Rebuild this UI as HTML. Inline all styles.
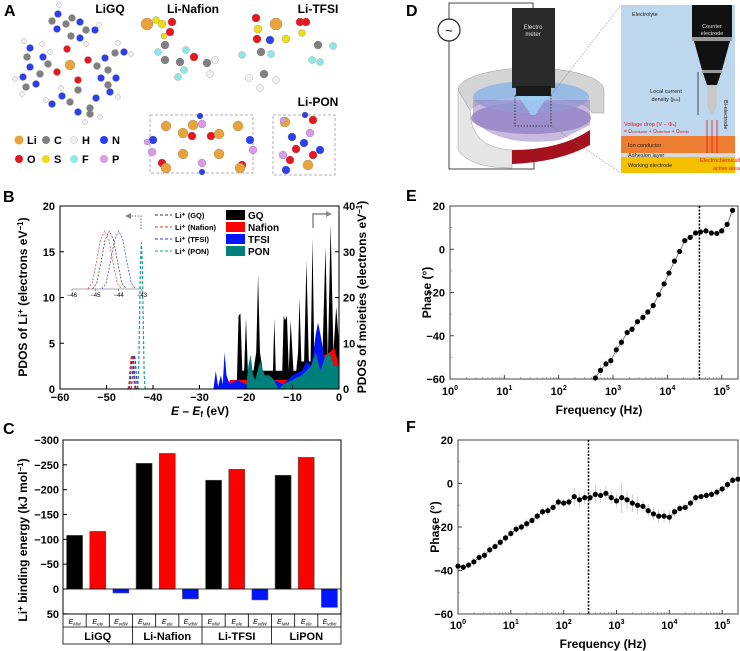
<!DOCTYPE html>
<html><head><meta charset="utf-8"><style>
body{margin:0;background:#fff;}
svg{display:block;font-family:"Liberation Sans",Arial,sans-serif;}
.b{font-weight:bold;}
</style></head><body>
<svg id="fig" width="740" height="651" viewBox="0 0 740 651" xmlns="http://www.w3.org/2000/svg">
<g id="panelA">
<text x="4" y="16" font-size="16" class="b">A</text>
<text x="110" y="13" font-size="12" class="b" text-anchor="middle">LiGQ</text>
<text x="193" y="13" font-size="12" class="b" text-anchor="middle">Li-Nafion</text>
<text x="318" y="13" font-size="12" class="b" text-anchor="middle">Li-TFSI</text>
<text x="318" y="106" font-size="12" class="b" text-anchor="middle">Li-PON</text>
<rect x="150" y="115" width="103" height="58" fill="none" stroke="#999" stroke-dasharray="3,2" stroke-width="0.8"/>
<rect x="273" y="115" width="62" height="60" fill="none" stroke="#999" stroke-dasharray="3,2" stroke-width="0.8"/>
<g id="mol"></g>
<g>
<circle cx="19" cy="140" r="4.5" fill="#e8a33a"/><text x="27" y="144" font-size="11" class="b">Li</text>
<circle cx="46" cy="140" r="4" fill="#808080"/><text x="54" y="144" font-size="11" class="b">C</text>
<circle cx="74" cy="140" r="3.5" fill="#f2f2f2" stroke="#bbb" stroke-width="0.5"/><text x="82" y="144" font-size="11" class="b">H</text>
<circle cx="104" cy="140" r="4" fill="#2b3ff0"/><text x="112" y="144" font-size="11" class="b">N</text>
<circle cx="19" cy="159" r="4" fill="#e8141e"/><text x="27" y="163" font-size="11" class="b">O</text>
<circle cx="46" cy="159" r="4" fill="#ecdc1a"/><text x="54" y="163" font-size="11" class="b">S</text>
<circle cx="74" cy="159" r="4" fill="#8fe8e8"/><text x="82" y="163" font-size="11" class="b">F</text>
<circle cx="104" cy="159" r="4" fill="#d99ae8"/><text x="112" y="163" font-size="11" class="b">P</text>
</g>
</g>

<g id="panelD">
<text x="406" y="16" font-size="16" class="b">D</text>
<polyline points="449,19 449,3 533,3 533,8" fill="none" stroke="#444" stroke-width="1"/>
<polyline points="449,41 449,169 534,169 534,160" fill="none" stroke="#444" stroke-width="1"/>
<circle cx="449" cy="30" r="11" fill="#fff" stroke="#222" stroke-width="1.2"/>
<text x="449" y="35" font-size="13" text-anchor="middle">~</text>
<path d="M458,90 L458,150 Q470,168 512,168 L512,150 Q470,148 470,110 Z" fill="#e5e5e5" stroke="#999" stroke-width="0.5"/>
<path d="M458,90 A73,22 0 0 1 604,90 L604,113 L592,113 A62,18 0 0 0 470,110 Z" fill="#d4d4d4" stroke="#999" stroke-width="0.5"/>
<path d="M512,150 L512,164 Q560,162 590,145 L590,130 Q560,150 512,150 Z" fill="#a3121d"/>
<ellipse cx="531" cy="118" rx="60" ry="16" fill="#8c84c9" opacity="0.8"/>
<ellipse cx="531" cy="97" rx="58" ry="16" fill="#8cb6e6" opacity="0.85"/>
<path d="M473,100 L473,120 Q500,148 560,140 L590,125 L590,100 Z" fill="#9b7fc2" opacity="0.55"/>
<rect x="512" y="8" width="43" height="80" fill="#2a2a2a"/>
<rect x="516" y="86" width="35" height="10" fill="#1a1a1a"/>
<polygon points="518,96 548,96 535,115 531,115" fill="#9fd0f5" opacity="0.8"/>
<text x="533" y="29" font-size="6" fill="#ddd" text-anchor="middle">Electro</text>
<text x="533" y="36" font-size="6" fill="#ddd" text-anchor="middle">meter</text>
<rect x="515" y="95" width="36" height="31" fill="none" stroke="#222" stroke-dasharray="1.5,1.5" stroke-width="0.8"/>
<line x1="551" y1="95" x2="621" y2="5" stroke="#777" stroke-width="0.5" stroke-dasharray="2,1"/>
<line x1="551" y1="126" x2="621" y2="173" stroke="#777" stroke-width="0.5" stroke-dasharray="2,1"/>
<g>
<rect x="621" y="5" width="114" height="131" fill="#bcd7ee"/>
<rect x="621" y="136" width="114" height="17" fill="#ed7d31"/>
<rect x="621" y="153" width="114" height="4" fill="#d9d9d9"/>
<rect x="621" y="157" width="114" height="16" fill="#f5c000"/>
<rect x="692" y="5" width="40" height="32" fill="#111"/>
<rect x="692" y="37" width="40" height="4" fill="#999"/>
<polygon points="694,41 730,41 722,70 702,70" fill="#111"/>
<rect x="702" y="70" width="20" height="3" fill="#999"/>
<polygon points="703,73 721,73 717,85 707,85" fill="#111"/>
<polygon points="707,85 717,85 717,106 712,115 707,106" fill="#c8c8c8"/>
<text x="712" y="28" font-size="5.5" fill="#ddd" text-anchor="middle">Counter</text>
<text x="712" y="35" font-size="5.5" fill="#ddd" text-anchor="middle">electrode</text>
<text x="632" y="16" font-size="5.5" fill="#222">Electrolyte</text>
<text x="666" y="93" font-size="5.5" fill="#222" text-anchor="middle">Local current</text>
<text x="666" y="101" font-size="5.5" fill="#222" text-anchor="middle">density (j<tspan font-size="4">loc</tspan>)</text>
<line x1="698" y1="72" x2="698" y2="115" stroke="#111" stroke-width="0.7"/>
<text x="624" y="126" font-size="5.5" fill="#e8141e">Voltage drop (V − Φ<tspan font-size="4">s</tspan>)</text>
<text x="624" y="133" font-size="5" fill="#e8141e">= Ω<tspan font-size="3.5">conductor</tspan> + Ω<tspan font-size="3.5">interface</tspan> + Ω<tspan font-size="3.5">ohmic</tspan></text>
<text x="628" y="147" font-size="5.5" fill="#222">Ion conductor</text>
<text x="628" y="157" font-size="5.5" fill="#222">Adhesion layer</text>
<text x="628" y="167" font-size="5.5" fill="#222">Working electrode</text>
<text x="700" y="162" font-size="5.5" fill="#e8141e">Electrochemically</text>
<text x="713" y="170" font-size="5.5" fill="#e8141e">active area</text>
<text x="724" y="100" font-size="5.5" fill="#222" transform="rotate(90 724 100)">Bi-electrode</text>
<line x1="707" y1="153" x2="707" y2="120" stroke="#e8141e" stroke-width="0.8"/>
<line x1="712" y1="153" x2="712" y2="120" stroke="#e8141e" stroke-width="0.8"/>
<line x1="717" y1="153" x2="717" y2="120" stroke="#e8141e" stroke-width="0.8"/>
</g>
</g>

<g id="panelB">
<text x="3" y="202" font-size="16" class="b">B</text>
</g>
<g id="panelC">
<text x="3" y="434" font-size="16" class="b">C</text>
</g>
<g id="panelE">
<text x="406" y="201" font-size="16" class="b">E</text>
</g>
<g id="panelF">
<text x="406" y="432" font-size="16" class="b">F</text>
</g>
</svg>
<script>
// ---------- Panel B data ----------
const gqE = [-22,-21.6,-21.2,-20.8,-20.4,-20,-19.6,-19,-18.4,-17.8,-17.4,-17,-16.4,-15,-14.2,-13.9,-13.6,-13,-12.2,-11.9,-11.6,-11.2,-10.8,-10.4,-9.8,-9.2,-8.8,-8.5,-8.1,-7.5,-7,-6.5,-6.1,-5.7,-5.3,-4.5,-3.6,-2.9,-2.4,-1.8,-1.2,-0.6,0];
const gqV = [0,16,16.5,4,4,15.5,4,4,4,8,25,8,4,4,4,15.5,4,4,4,16,15,16,4,15,4,4,8,20,6,6,28,6,6,33,6,6,6,31,6,36,8,18,10];
const nafE = [-24,-23.5,-22,-20,-18,-16,-14,-12,-10,-8,-6,-4,-2,-1,0];
const nafV = [0,2,2,2,2,2,2,2,2,3,5,7,8,9,5];
const tfsiE = [-27,-26.5,-26,-25.4,-25,-24.6,-24.2,-23.5,-22,-20,-18,-16,-14,-12,-10,-8,-7,-6,-5.5,-5,-4.5,-4,-3,-2,-1,0];
const tfsiV = [0,4,0.5,3,1,8,3,1,2,1,2,1,2,1,3,4,6,5,8,12,14.5,12,6,8,5,4];
const ponE = [-20,-19.5,-19,-18.5,-18,-17,-16,-15,-14,-13,-12,-10,-8,-6,-5,-4,-3,-2,-1,0];
const ponV = [0,5,7.5,3,2,6,3,3,2,0,1,2,3,5,8,4,7,8,5,5];
const liNames = ['Li⁺ (GQ)','Li⁺ (Nafion)','Li⁺ (TFSI)','Li⁺ (PON)'];
const liCenters = [-44.4,-44.6,-44.0,-42.5];
const liPeaks = [3.7,3.7,3.7,16];
const liShapeOff = [-0.8,-0.6,-0.4,-0.2,0,0.2,0.4,0.6,0.8];
const liShapeV = [0,0.1,0.45,0.85,1,0.85,0.45,0.1,0];
const bXTicks = [-60,-50,-40,-30,-20,-10,0];
const bLTicks = [0,5,10,15,20];
const bRTicks = [0,10,20,30,40];
// ---------- Panel C data ----------
const cGroups = ['LiGQ','Li-Nafion','Li-TFSI','LiPON'];
const cTerms = ['MM','ele','vdW'];
const cMM = [108,253,219,229];
const cEle = [116,273,241,265];
const cVdw = [-8,-20,-22,-37];
const cTicks = [-300,-250,-200,-150,-100,-50,0,50];
// ---------- Panel E data ----------
const eLogF = [2.675,2.77,2.87,2.96,3.06,3.155,3.26,3.35,3.45,3.55,3.64,3.74,3.84,3.94,4.03,4.13,4.225,4.32,4.42,4.52,4.61,4.71,4.81,4.91,5.0,5.1,5.2];
const ePhase = [-59.5,-56,-53,-51.5,-46.5,-43,-38.5,-37,-33.5,-31.5,-29,-26,-21,-16,-11,-5.5,-1,4,5.5,7.5,8,8.5,7.5,7.3,8.5,11.5,18];
const eErr = [1.5,2.5,2,2.5,2,2,1.5,1.5,1.5,2,1.5,1.5,1,1,1,1,1,1,1,1,1,3,1,1,1,1,1];
const eMarker = 4.59;
// ---------- Panel F data ----------
const fLogF = [0,0.1,0.2,0.3,0.4,0.5,0.6,0.7,0.8,0.9,1.0,1.1,1.2,1.3,1.4,1.5,1.6,1.7,1.8,1.9,2.0,2.1,2.2,2.3,2.4,2.5,2.6,2.7,2.8,2.9,3.0,3.1,3.2,3.3,3.4,3.5,3.6,3.7,3.8,3.9,4.0,4.1,4.2,4.3,4.4,4.5,4.6,4.7,4.8,4.9,5.0,5.1,5.2,5.3];
const fPhase = [-38,-38.5,-37.5,-36,-34,-33,-30.5,-29,-27,-25,-23,-21,-20,-18.5,-17,-15,-13,-12.5,-11,-8.5,-9,-8.5,-6,-7.5,-6.5,-6.5,-5,-5.5,-4.5,-6.5,-8,-6.5,-7.5,-9,-10,-10.5,-12.5,-14,-15,-15,-15.5,-13,-11.5,-11,-9,-6.5,-6,-5.5,-5,-4,-2.5,-0.5,1.5,2];
const fErr = [1.5,1.5,1.5,2,2,2,2,2,2,2,2,2,2,2,2,2,2,2,2,2,2,2,4,3,3,3,4,3,3,3,3,7,4,4,4,3,3,3,3,3,3,2,2,2,2,2,2,2,2,2,2,2,2,2];
const fMarker = 2.47;
const freqTicks = [0,1,2,3,4,5];
const phaseTicks = [20,0,-20,-40,-60];

const NS='http://www.w3.org/2000/svg';
function mk(parent,tag,attrs,text){const e=document.createElementNS(NS,tag);for(const k in attrs)e.setAttribute(k,attrs[k]);if(text!==undefined)e.textContent=text;parent.appendChild(e);return e;}

// ---- Panel A atoms (decorative) ----
(function(){
const g=document.getElementById('mol');
const C='#808080',N='#2b3ff0',H='#f2f2f2',O='#e8141e',L='#e8a33a',S='#ecdc1a',F='#8fe8e8',P='#d99ae8';
const atoms=[[59,5,H,2.5],[58,14,N,3.5],[52,21,C,3.5],[57,29,N,3.5],[66,24,C,3.5],[72,18,C,3.5],[80,22,N,3.5],[86,30,C,3.5],[95,30,N,3.5],[99,25,H,2.5],[80,38,N,3.5],[71,36,C,3.5],[67,49,O,3.5],[86,44,H,2.5],
[24,41,H,2.5],[30,48,N,3.5],[27,57,C,3.5],[30,67,N,3.5],[23,77,N,3.5],[15,79,H,2.5],[26,87,C,3.5],[36,84,N,3.5],[40,74,C,3.5],[48,64,C,3.5],[57,72,O,3.5],[43,57,N,3.5],[50,52,H,2.5],[42,44,H,2.5],[22,94,H,2.5],
[70,65,L,5],[88,60,O,3.5],[97,66,C,3.5],[105,58,N,3.5],[115,53,C,3.5],[124,52,N,3.5],[118,43,H,2.5],[131,54,H,2.5],[108,70,C,3.5],[116,78,N,3.5],[108,85,C,3.5],[110,92,N,3.5],[101,78,N,3.5],[118,97,H,2.5],
[78,80,O,3.5],[78,90,C,3.5],[62,96,N,3.5],[70,102,C,3.5],[52,104,N,3.5],[46,100,H,2.5],[78,112,N,3.5],[90,108,C,3.5],[96,98,N,3.5],[90,114,C,3.5],[100,117,H,2.5],[85,122,H,2.5],[61,88,H,2.5],
[147,24,L,6],[156,20,S,3.5],[162,24,S,4],[172,22,O,4],[170,32,O,4],[164,36,S,3],[165,45,C,4],[158,52,F,3.5],[165,60,C,4],[180,62,C,4],[194,57,O,4],[184,70,F,3.5],[186,50,F,3.5],[207,63,C,4],[215,60,H,3.5],[210,74,H,3.5],[178,77,F,3.5],
[257,39,O,4],[256,18,O,4],[258,29,S,4],[276,24,L,6],[270,40,N,4],[286,39,S,4],[300,22,O,4],[306,22,O,4],[302,33,S,3.5],[318,45,C,4],[333,46,F,3.5],[320,62,F,3.5],[312,60,F,3.5],[261,52,C,4],[242,55,F,3.5],[271,54,F,3.5],[249,78,H,3.5],[264,74,C,4],[276,80,H,3.5],[260,88,H,3.5],
[166,126,L,5],[153,140,N,4],[147,142,P,3],[152,152,P,4],[162,163,O,4],[166,168,L,5],[193,125,L,5],[200,116,N,3],[202,124,P,4],[192,136,O,4],[211,136,O,4],[183,133,L,5],[219,134,L,5],[183,154,L,5],[219,154,L,5],[202,163,P,4],[202,172,N,3],[238,126,L,5],[250,140,N,4],[253,150,P,4],[242,165,O,4],[240,168,L,5],
[285,122,L,5],[283,120,P,3],[313,120,O,4],[305,115,N,3],[292,137,N,4],[310,133,P,4],[304,143,N,4],[283,155,P,4],[290,160,O,4],[296,149,O,4],[313,155,O,4],[308,165,L,5],[320,150,N,4],[286,170,N,4]];
atoms.forEach(a=>{const c=mk(g,'circle',{cx:a[0],cy:a[1],r:a[3],fill:a[2],stroke:'#777','stroke-width':0.3});

});
})();

// ---- Panel B ----
(function(){
const g=document.getElementById('panelB');
const x0=60,x1=339,y0=206,y1=389;
const xS=E=>x0+(E+60)*(x1-x0)/60;
const yR=v=>y1-v*(y1-y0)/40;
const yL=v=>y1-v*(y1-y0)/20;
const series=[[gqE,gqV,'#000','pdos-gq'],[nafE,nafV,'#f00','pdos-nafion'],[tfsiE,tfsiV,'#0014ff','pdos-tfsi'],[ponE,ponV,'#00807a','pdos-pon']];
series.forEach(s=>{let pts=[[xS(s[0][0]),y1]];s[0].forEach((E,i)=>pts.push([xS(E),yR(s[1][i])]));pts.push([xS(s[0][s[0].length-1]),y1]);
const p=mk(g,'polygon',{points:pts.map(p=>p.join(',')).join(' '),fill:s[2]});

});
const liCols=['#333','#e33','#33e','#1a9a8f'];
liCenters.forEach((c,i)=>{const d=liShapeOff.map((o,j)=>(j?'L':'M')+xS(c+o).toFixed(2)+','+yL(liPeaks[i]*liShapeV[j]).toFixed(2)).join(' ');
const p=mk(g,'path',{d:d,fill:'none',stroke:liCols[i],'stroke-width':1.2,'stroke-dasharray':'3,2'});

});
mk(g,'rect',{x:x0,y:y0,width:x1-x0,height:y1-y0,fill:'none',stroke:'#000','stroke-width':1});
bXTicks.forEach(t=>{mk(g,'line',{x1:xS(t),x2:xS(t),y1:y1,y2:y1-4,stroke:'#000'});const tl=mk(g,'text',{x:xS(t),y:y1+12,'font-size':11,'text-anchor':'middle',class:'b'},t===0?'0':'−'+Math.abs(t));});
bLTicks.forEach(t=>{mk(g,'line',{x1:x0,x2:x0+4,y1:yL(t),y2:yL(t),stroke:'#000'});const tl=mk(g,'text',{x:x0-5,y:yL(t)+4,'font-size':11,'text-anchor':'end',class:'b'},t);});
bRTicks.forEach(t=>{mk(g,'line',{x1:x1,x2:x1-4,y1:yR(t),y2:yR(t),stroke:'#000'});const tl=mk(g,'text',{x:x1+4,y:yR(t)+4,'font-size':11,'class':'b'},t);});
const xt=mk(g,'text',{x:200,y:415,'font-size':12,'text-anchor':'middle',class:'b'});xt.innerHTML='<tspan font-style="italic">E</tspan> – <tspan font-style="italic">E</tspan><tspan font-size="8" dy="2">f</tspan><tspan dy="-2"> (eV)</tspan>';

const yt=mk(g,'text',{x:0,y:0,'font-size':12,'text-anchor':'middle',class:'b',transform:'translate(27,297) rotate(-90)'});yt.innerHTML='PDOS of Li<tspan font-size="8" dy="-4">+</tspan><tspan dy="4"> (electrons eV</tspan><tspan font-size="8" dy="-4">−1</tspan><tspan dy="4">)</tspan>';

const yt2=mk(g,'text',{x:0,y:0,'font-size':12,'text-anchor':'middle',class:'b',transform:'translate(366,297) rotate(-90)'});yt2.innerHTML='PDOS of moieties (electrons eV<tspan font-size="8" dy="-4">−1</tspan><tspan dy="4">)</tspan>';

const ix0=72,ix1=142,iy=289,ih=58;const ixS=E=>ix0+(E+46)*(ix1-ix0)/3;
mk(g,'line',{x1:ix0,x2:ix1,y1:iy,y2:iy,stroke:'#555','stroke-width':0.6});
[-46,-45,-44,-43].forEach(t=>{mk(g,'line',{x1:ixS(t),x2:ixS(t),y1:iy,y2:iy+2,stroke:'#555','stroke-width':0.6});mk(g,'text',{x:ixS(t),y:iy+8,'font-size':6,'text-anchor':'middle'},'−'+Math.abs(t));});
for(let i=0;i<3;i++){const d=liShapeOff.map((o,j)=>(j?'L':'M')+ixS(liCenters[i]+o*0.9).toFixed(2)+','+(iy-ih*liShapeV[j]).toFixed(2)).join(' ');
const p=mk(g,'path',{d:d,fill:'none',stroke:liCols[i],'stroke-width':0.7,'stroke-dasharray':'2,1.5'});

}
liNames.forEach((n,i)=>{const y=215+i*12;mk(g,'line',{x1:155,x2:172,y1:y,y2:y,stroke:liCols[i],'stroke-dasharray':'3,2','stroke-width':1});const t=mk(g,'text',{x:175,y:y+3,'font-size':7.5,class:'b'},n);});
[['GQ','#000'],['Nafion','#f00'],['TFSI','#0014ff'],['PON','#00807a']].forEach((s,i)=>{const y=210+i*12;mk(g,'rect',{x:226,y:y,width:19,height:10,fill:s[1]});const t=mk(g,'text',{x:248,y:y+9,'font-size':10,class:'b'},s[0]);});
mk(g,'polyline',{points:'313,228 313,214 328,214',fill:'none',stroke:'#888','stroke-width':1.5});
mk(g,'polygon',{points:'332,214 326,211 326,217',fill:'#888'});
mk(g,'polyline',{points:'141,229 141,216 130,216',fill:'none',stroke:'#888','stroke-width':1.2,'stroke-dasharray':'1.5,1.5'});
mk(g,'polygon',{points:'125,216 131,213 131,219',fill:'#888'});
})();

// ---- Panel C ----
(function(){
const g=document.getElementById('panelC');
const x0=63,x1=341,y0=440,yb=614;
const yS=E=>589+E*(149/300);
const cw=(x1-x0)/12;
for(let gi=0;gi<4;gi++){[[cMM,'#000'],[cEle,'#f00'],[cVdw,'#0014ff']].forEach((s,k)=>{const v=s[0][gi];const cx=x0+(gi*3+k+0.5)*cw;const yv=yS(-v);
const r=mk(g,'rect',{x:cx-8,y:Math.min(yv,yS(0)),width:16,height:Math.abs(yS(0)-yv),fill:s[1],stroke:'#555','stroke-width':0.6});

});}
mk(g,'line',{x1:x0,x2:x1,y1:yS(0),y2:yS(0),stroke:'#000','stroke-width':0.8});
mk(g,'rect',{x:x0,y:y0,width:x1-x0,height:yb-y0,fill:'none',stroke:'#000'});
cTicks.forEach(t=>{mk(g,'line',{x1:x0,x2:x0+4,y1:yS(t),y2:yS(t),stroke:'#000'});const tl=mk(g,'text',{x:x0-4,y:yS(t)+4,'font-size':11,'text-anchor':'end',class:'b'},t<0?'−'+Math.abs(t):t);});
mk(g,'rect',{x:x0,y:yb,width:x1-x0,height:30,fill:'none',stroke:'#000','stroke-width':0.8});
mk(g,'line',{x1:x0,x2:x1,y1:627,y2:627,stroke:'#000','stroke-width':0.8});
for(let i=1;i<12;i++){mk(g,'line',{x1:x0+i*cw,x2:x0+i*cw,y1:yb,y2:i%3?627:644,stroke:'#000','stroke-width':0.8});}
for(let i=0;i<12;i++){const t=mk(g,'text',{x:x0+(i+0.5)*cw,y:624,'font-size':7,'text-anchor':'middle','font-style':'italic'});t.innerHTML='E<tspan font-size="4.5" dy="1.5">'+cTerms[i%3]+'</tspan>';}
cGroups.forEach((n,i)=>{const t=mk(g,'text',{x:x0+(i*3+1.5)*cw,y:640,'font-size':11,'text-anchor':'middle',class:'b'},n);});
const yt=mk(g,'text',{x:0,y:0,'font-size':12,'text-anchor':'middle',class:'b',transform:'translate(27,540) rotate(-90)'});yt.innerHTML='Li<tspan font-size="8" dy="-4">+</tspan><tspan dy="4"> binding energy (kJ mol</tspan><tspan font-size="8" dy="-4">−1</tspan><tspan dy="4">)</tspan>';

})();

// ---- Panels E & F ----
function phasePanel(id,x0,x1,y0,y1,xs,ys,errs,marker,labY,titleY){
const g=document.getElementById(id);
const dec=(x1-x0)/5.3;
const xS=l=>x0+l*dec;const yS=v=>y1-(v+60)*(y1-y0)/80;
mk(g,'rect',{x:x0,y:y0,width:x1-x0,height:y1-y0,fill:'none',stroke:'#444'});
freqTicks.forEach(t=>{mk(g,'line',{x1:xS(t),x2:xS(t),y1:y1,y2:y1-4,stroke:'#444'});for(let m=2;m<10;m++){const lx=t+Math.log10(m);if(lx<5.3)mk(g,'line',{x1:xS(lx),x2:xS(lx),y1:y1,y2:y1-2,stroke:'#777','stroke-width':0.6});}
const tl=mk(g,'text',{x:xS(t),y:labY,'font-size':11,'text-anchor':'middle',class:'b'});tl.innerHTML='10<tspan font-size="7" dy="-5">'+t+'</tspan>';});
phaseTicks.forEach(t=>{mk(g,'line',{x1:x0,x2:x0+4,y1:yS(t),y2:yS(t),stroke:'#444'});if(t>-60)mk(g,'line',{x1:x0,x2:x0+2,y1:yS(t-10),y2:yS(t-10),stroke:'#777','stroke-width':0.6});const tl=mk(g,'text',{x:x0-5,y:yS(t)+4,'font-size':11,'text-anchor':'end',class:'b'},t<0?'−'+Math.abs(t):t);});
const ml=mk(g,'line',{x1:xS(marker),x2:xS(marker),y1:y0,y2:y1,stroke:'#000','stroke-width':1.5,'stroke-dasharray':'2,1.5'});

const d=xs.map((l,i)=>(i?'L':'M')+xS(l).toFixed(2)+','+yS(ys[i]).toFixed(2)).join(' ');
const ln=mk(g,'path',{d:d,fill:'none',stroke:'#666','stroke-width':0.8});

xs.forEach((l,i)=>{const cx=xS(l);mk(g,'line',{x1:cx,x2:cx,y1:yS(ys[i]-errs[i]),y2:yS(ys[i]+errs[i]),stroke:'#aaa','stroke-width':0.6});
const c=mk(g,'circle',{cx:cx,cy:yS(ys[i]),r:2.6,fill:'#000'});

});
const xt=mk(g,'text',{x:(x0+x1)/2+5,y:titleY,'font-size':12,'text-anchor':'middle',class:'b'},'Frequency (Hz)');
const yt=mk(g,'text',{x:0,y:0,'font-size':12,'text-anchor':'middle',class:'b',transform:'translate('+(x0-19)+','+((y0+y1)/2)+') rotate(-90)'},'Phase (°)');
}
phasePanel('panelE',450,738,206,379,eLogF,ePhase,eErr,eMarker,395,414);
phasePanel('panelF',458,738,440,614,fLogF,fPhase,fErr,fMarker,629,648);
</script>
</body></html>
